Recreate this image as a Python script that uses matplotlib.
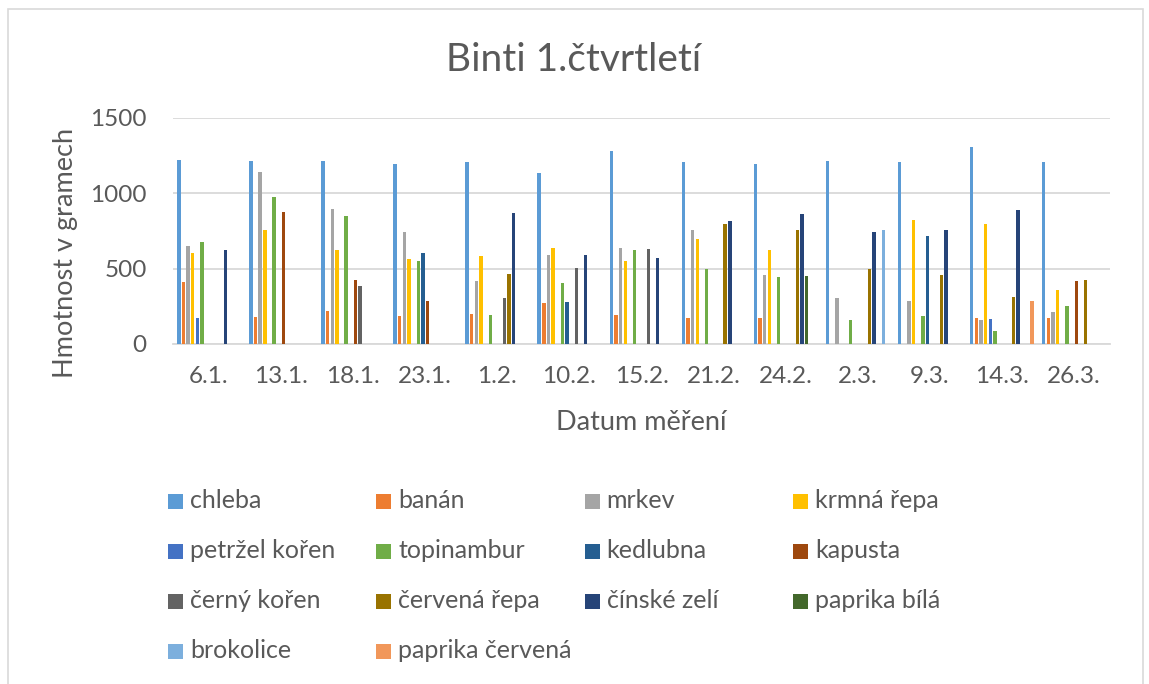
import matplotlib.pyplot as plt
import numpy as np
from matplotlib.patches import Rectangle

plt.rcParams['font.family'] = ['Lato', 'DejaVu Sans']

# data (0 = no bar)
dates = ['6.1.', '13.1.', '18.1.', '23.1.', '1.2.', '10.2.', '15.2.',
         '21.2.', '24.2.', '2.3.', '9.3.', '14.3.', '26.3.']

chleba = [1218, 1214, 1214, 1198, 1209, 1138, 1278, 1205, 1198, 1212, 1205, 1305, 1205]
banan = [410, 178, 222, 186, 200, 269, 195, 173, 173, 0, 0, 173, 173]
mrkev = [652, 1143, 899, 746, 419, 592, 635, 754, 455, 302, 286, 160, 213]
krmna_repa = [604, 759, 626, 564, 581, 639, 550, 699, 626, 0, 823, 797, 357]
petrzel_koren = [173, 0, 0, 0, 0, 0, 0, 0, 0, 0, 0, 169, 0]
topinambur = [677, 974, 852, 550, 193, 406, 626, 497, 448, 160, 184, 89, 255]
kedlubna = [0, 0, 0, 604, 0, 277, 0, 0, 0, 0, 715, 0, 0]
kapusta = [0, 879, 424, 286, 0, 0, 0, 0, 0, 0, 0, 0, 415]
cerny_koren = [0, 0, 384, 0, 308, 506, 630, 0, 0, 0, 0, 0, 0]
cervena_repa = [0, 0, 0, 0, 464, 0, 0, 799, 759, 499, 457, 315, 428]
cinske_zeli = [621, 0, 0, 0, 872, 588, 568, 819, 861, 741, 754, 892, 0]
paprika_bila = [0, 0, 0, 0, 0, 0, 0, 0, 453, 0, 0, 0, 0]
brokolice = [0, 0, 0, 0, 0, 0, 0, 0, 0, 754, 0, 0, 0]
paprika_cervena = [0, 0, 0, 0, 0, 0, 0, 0, 0, 0, 0, 286, 0]

series_names = ['chleba', 'banán', 'mrkev', 'krmná řepa', 'petržel kořen', 'topinambur',
                'kedlubna', 'kapusta', 'černý kořen', 'červená řepa', 'čínské zelí',
                'paprika bílá', 'brokolice', 'paprika červená']
series_values = [chleba, banan, mrkev, krmna_repa, petrzel_koren, topinambur, kedlubna,
                 kapusta, cerny_koren, cervena_repa, cinske_zeli, paprika_bila,
                 brokolice, paprika_cervena]
colors = ['#5B9BD5', '#ED7D31', '#A5A5A5', '#FFC000', '#4472C4', '#70AD47', '#255E91',
          '#9E480E', '#636363', '#997300', '#264478', '#43682B', '#7CAFDD', '#F1975A']

W, H = 1149, 684
text_col = '#595959'
grid_col = '#D9D9D9'

fig = plt.figure(figsize=(W / 100, H / 100), dpi=100)
# okraj grafu
fig.patches.append(Rectangle((8 / W, -0.02), (1143 - 8) / W, 1 - 9 / H + 0.02,
                             transform=fig.transFigure, fill=False,
                             edgecolor=grid_col, linewidth=1.2))

ax = fig.add_axes([173 / W, 1 - 344 / H, (1110 - 173) / W, (344 - 118) / H])

x = np.arange(len(dates))
n = len(series_values)
slot = 0.0645
for i, (vals, c) in enumerate(zip(series_values, colors)):
    ax.bar(x + (i - (n - 1) / 2) * slot, vals, width=slot * 0.74, color=c, zorder=3)

ax.set_xlim(-0.5, len(dates) - 0.5)
ax.set_ylim(0, 1500)
ax.set_yticks([0, 500, 1000, 1500])
ax.set_xticks(x)
ax.set_xticklabels(dates)
ax.tick_params(axis='both', length=0, labelsize=17.5, colors=text_col)
ax.tick_params(axis='y', pad=19)
ax.tick_params(axis='x', pad=16)
ax.grid(axis='y', color=grid_col, linewidth=1.3, zorder=0)
for s in ['top', 'right', 'left']:
    ax.spines[s].set_visible(False)
ax.spines['bottom'].set_color(grid_col)
ax.spines['bottom'].set_linewidth(1.3)

fig.text(574 / W, 1 - 60 / H, 'Binti 1.čtvrtletí', ha='center', va='center',
         fontsize=28, color=text_col)
fig.text(641 / W, 1 - 422 / H, 'Datum měření', ha='center', va='center',
         fontsize=19.5, color=text_col)
fig.text(66 / W, 1 - 253 / H, 'Hmotnost v gramech', ha='center', va='center',
         rotation=90, fontsize=19.5, color=text_col)

# legenda
for i, (name, c) in enumerate(zip(series_names, colors)):
    row, col = i // 4, i % 4
    lx = 168 + col * 208.3
    ly = 501 + row * 50
    fig.patches.append(Rectangle((lx / W, 1 - (ly + 7.5) / H), 15 / W, 15 / H,
                                 transform=fig.transFigure, facecolor=c,
                                 edgecolor='none'))
    fig.text((lx + 22) / W, 1 - ly / H, name, ha='left', va='center',
             fontsize=18, color=text_col)

fig.savefig('out.png', dpi=100)
